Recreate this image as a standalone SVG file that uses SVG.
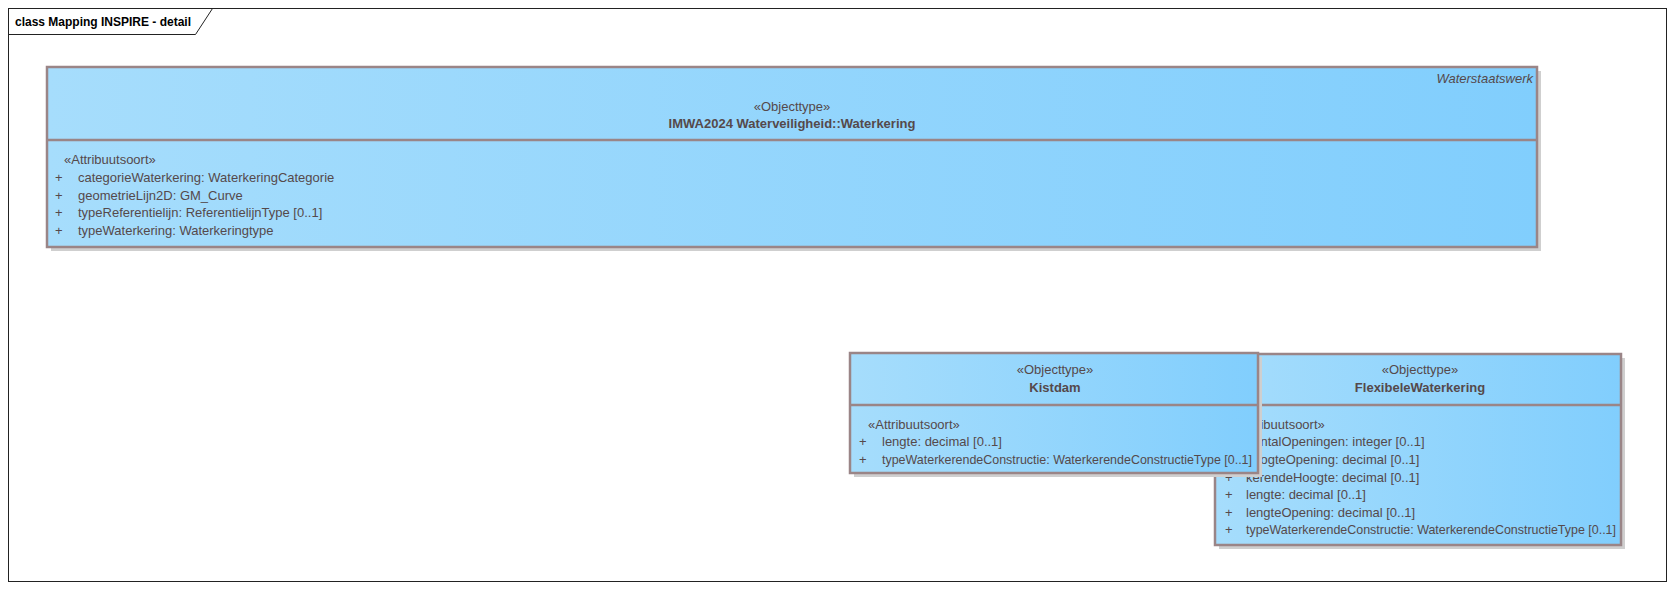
<svg xmlns="http://www.w3.org/2000/svg" width="1674" height="589" viewBox="0 0 1674 589">
<defs>
<linearGradient id="g" x1="0" y1="0" x2="1" y2="0">
<stop offset="0" stop-color="#a6ddfc"/>
<stop offset="1" stop-color="#81cefd"/>
</linearGradient>
<style>
text{font-family:"Liberation Sans",Arial,sans-serif;font-size:13px;fill:#55494b}
.b{font-weight:bold}
.c{text-anchor:middle}
.i{font-style:italic;text-anchor:end}
.box{fill:url(#g);stroke:#9a8587;stroke-width:2.5}
.sep{stroke:#9a8587;stroke-width:2.5}
.sh{fill:#cfcfcf}
.frame{fill:none;stroke:#222;stroke-width:1}
</style>
</defs>
<rect width="1674" height="589" fill="#fff"/>
<g id="frame">
<rect class="frame" x="8.5" y="8.5" width="1658" height="573"/>
<path class="frame" d="M8.5 34.5 H195.5 L212.5 8.5"/>
<text x="15" y="26" class="b" style="fill:#000;font-size:12px">class Mapping INSPIRE - detail</text>
</g>
<g id="connectors"></g>
<g id="Waterkering">
<rect class="sh" x="51" y="71" width="1490" height="180"/>
<rect class="box" x="47" y="67" width="1490" height="180"/>
<line class="sep" x1="47" y1="140" x2="1537" y2="140"/>
<text class="i" x="1533" y="83">Waterstaatswerk</text>
<text class="c" x="792" y="111">«Objecttype»</text>
<text class="c b" x="792" y="128">IMWA2024 Waterveiligheid::Waterkering</text>
<text x="64" y="164">«Attribuutsoort»</text>
<text x="55" y="182">+</text><text x="78" y="182">categorieWaterkering: WaterkeringCategorie</text>
<text x="55" y="200">+</text><text x="78" y="200">geometrieLijn2D: GM_Curve</text>
<text x="55" y="217">+</text><text x="78" y="217">typeReferentielijn: ReferentielijnType [0..1]</text>
<text x="55" y="235">+</text><text x="78" y="235">typeWaterkering: Waterkeringtype</text>
</g>
<g id="FlexibeleWaterkering">
<rect class="sh" x="1219" y="358" width="406" height="191"/>
<rect class="box" x="1215" y="354" width="406" height="191"/>
<line class="sep" x1="1215" y1="405" x2="1621" y2="405"/>
<text class="c" x="1420" y="374">«Objecttype»</text>
<text class="c b" x="1420" y="392">FlexibeleWaterkering</text>
<text x="1233" y="429">«Attribuutsoort»</text>
<text x="1225" y="446">+</text><text x="1246" y="446">aantalOpeningen: integer [0..1]</text>
<text x="1225" y="464">+</text><text x="1246" y="464">hoogteOpening: decimal [0..1]</text>
<text x="1225" y="482">+</text><text x="1246" y="482">kerendeHoogte: decimal [0..1]</text>
<text x="1225" y="499">+</text><text x="1246" y="499">lengte: decimal [0..1]</text>
<text x="1225" y="517">+</text><text x="1246" y="517">lengteOpening: decimal [0..1]</text>
<text x="1225" y="534">+</text><text x="1246" y="534" textLength="370" lengthAdjust="spacingAndGlyphs">typeWaterkerendeConstructie: WaterkerendeConstructieType [0..1]</text>
</g>
<g id="Kistdam">
<rect class="sh" x="854" y="357" width="408" height="120"/>
<rect class="box" x="850" y="353" width="408" height="120"/>
<line class="sep" x1="850" y1="405" x2="1258" y2="405"/>
<text class="c" x="1055" y="374">«Objecttype»</text>
<text class="c b" x="1055" y="392">Kistdam</text>
<text x="868" y="429">«Attribuutsoort»</text>
<text x="859" y="446">+</text><text x="882" y="446">lengte: decimal [0..1]</text>
<text x="859" y="464">+</text><text x="882" y="464" textLength="370" lengthAdjust="spacingAndGlyphs">typeWaterkerendeConstructie: WaterkerendeConstructieType [0..1]</text>
</g>
</svg>
